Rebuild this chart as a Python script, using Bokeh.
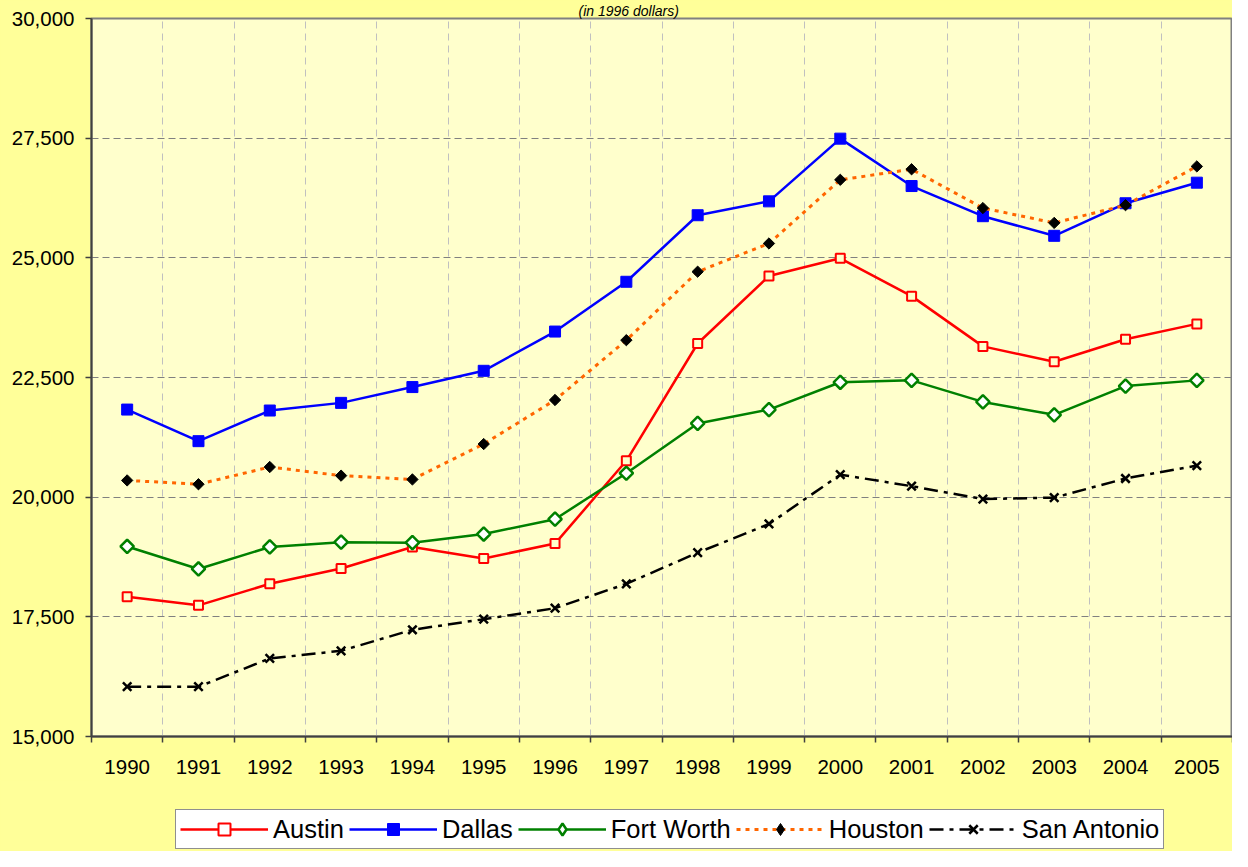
import numpy as np
from bokeh.plotting import figure
from bokeh.layouts import column
from bokeh.models import (Range1d, FixedTicker, NumeralTickFormatter, Legend, LegendItem)
from bokeh.embed import file_html
from bokeh.resources import INLINE

years = ["1990", "1991", "1992", "1993", "1994", "1995", "1996", "1997",
         "1998", "1999", "2000", "2001", "2002", "2003", "2004", "2005"]
austin = [17920, 17740, 18190, 18510, 18960, 18720, 19030, 20760,
          23210, 24620, 24990, 24200, 23150, 22830, 23300, 23620]
dallas = [21830, 21170, 21810, 21970, 22300, 22640, 23460, 24500,
          25890, 26180, 27490, 26500, 25870, 25460, 26140, 26570]
fort_worth = [18970, 18500, 18960, 19060, 19050, 19230, 19540, 20500,
              21540, 21830, 22400, 22440, 21990, 21720, 22320, 22440]
houston = [20350, 20270, 20630, 20450, 20370, 21110, 22030, 23280,
           24710, 25300, 26630, 26850, 26040, 25730, 26100, 26910]
san_antonio = [16040, 16040, 16630, 16790, 17230, 17450, 17680, 18190,
               18840, 19440, 20470, 20230, 19960, 19990, 20390, 20660]
y_ticks = [15000, 17500, 20000, 22500, 25000, 27500, 30000]
subtitle = "(in 1996 dollars)"
series_names = ["Austin", "Dallas", "Fort Worth", "Houston", "San Antonio"]

FONT = "Liberation Sans"
OUTER = "#FFFF99"
n = len(years)
xpos = [i + 0.5 for i in range(n)]

p = figure(width=1232, height=780, output_backend="svg", toolbar_location=None,
           x_range=Range1d(0, n), y_range=Range1d(15000, 30000),
           min_border_left=91, min_border_right=0, min_border_top=16, min_border_bottom=44)
p.background_fill_color = "#FFFFCC"
p.border_fill_color = OUTER
p.outline_line_color = "#808080"
p.outline_line_width = 2

# title (fragment visible at the top of the reference)
p.title.text = subtitle
p.title.align = "left"
p.title.offset = 487
p.title.standoff = 0
p.title.text_font = FONT
p.title.text_font_size = "14px"
p.title.text_font_style = "italic"
p.title.text_color = "black"

# x axis
p.xaxis.ticker = FixedTicker(ticks=xpos, minor_ticks=list(range(n + 1)))
p.xaxis.major_label_overrides = {x: y for x, y in zip(xpos, years)}
p.xaxis.major_tick_out = 0
p.xaxis.major_tick_in = 0
p.xaxis.minor_tick_out = 6
p.xaxis.minor_tick_in = 0
p.xaxis.minor_tick_line_color = "#404040"
p.xaxis.minor_tick_line_width = 1.5
p.xaxis.axis_line_color = "#404040"
p.xaxis.axis_line_width = 2
p.xaxis.major_label_standoff = 17
p.xaxis.major_label_text_font = FONT
p.xaxis.major_label_text_font_size = "20.5px"
p.xaxis.major_label_text_color = "black"

# y axis
p.yaxis.ticker = FixedTicker(ticks=y_ticks, minor_ticks=[])
p.yaxis.formatter = NumeralTickFormatter(format="0,0")
p.yaxis.major_tick_out = 6
p.yaxis.major_tick_in = 0
p.yaxis.major_tick_line_color = "#404040"
p.yaxis.major_tick_line_width = 1.5
p.yaxis.axis_line_color = "#404040"
p.yaxis.axis_line_width = 2
p.yaxis.major_label_standoff = 11
p.yaxis.major_label_text_font = FONT
p.yaxis.major_label_text_font_size = "20.5px"
p.yaxis.major_label_text_color = "black"

# grids
p.xgrid.ticker = FixedTicker(ticks=list(range(n + 1)))
p.xgrid.grid_line_color = "#C0C0C0"
p.xgrid.grid_line_dash = "7 5"
p.xgrid.grid_line_width = 1
p.ygrid.grid_line_color = "#808080"
p.ygrid.grid_line_dash = "7 4"
p.ygrid.grid_line_width = 1

# series styles
styles = [
    dict(line=dict(line_color="#FF0000", line_width=2.5),
         mark=dict(marker="square", size=9, line_color="#FF0000", line_width=2, fill_color="#FFFFCC"),
         lmark=dict(marker="square", size=9, line_color="#FF0000", line_width=2, fill_color="white")),
    dict(line=dict(line_color="#0000FF", line_width=2.5),
         mark=dict(marker="square", size=11, line_color="#0000FF", fill_color="#0000FF"),
         lmark=dict(marker="square", size=11, line_color="#0000FF", fill_color="#0000FF")),
    dict(line=dict(line_color="#008000", line_width=2.5),
         mark=dict(marker="square", angle=np.pi / 4, size=9.5, line_color="#008000",
                   line_width=2.5, fill_color="white"),
         lmark=dict(marker="diamond", size=16, line_color="#008000", line_width=2.5,
                    fill_color="white")),
    dict(line=dict(line_color="#FF6600", line_width=3, line_dash="4 5"),
         mark=dict(marker="square", angle=np.pi / 4, size=8, line_color="black", fill_color="black"),
         lmark=dict(marker="diamond", size=14, line_color="black", fill_color="black")),
    dict(line=dict(line_color="black", line_width=2.5, line_dash="14 6 4 6"),
         mark=dict(marker="x", size=12, line_color="black", line_width=2.5),
         lmark=dict(marker="x", size=12, line_color="black", line_width=2.5)),
]
all_values = [austin, dallas, fort_worth, houston, san_antonio]

for vals, st in zip(all_values, styles):
    p.line(xpos, vals, **st["line"])
    p.scatter(xpos, vals, **st["mark"])

# legend strip (separate figure so the legend is not clipped by the plot frame)
p2 = figure(width=1232, height=71, output_backend="svg", toolbar_location=None,
            x_range=Range1d(0, n), y_range=Range1d(15000, 30000),
            x_axis_location=None, y_axis_location=None,
            min_border_left=0, min_border_right=0, min_border_top=0, min_border_bottom=0)
p2.background_fill_color = OUTER
p2.border_fill_color = OUTER
p2.outline_line_color = None
p2.grid.visible = False

items = []
for name, vals, st in zip(series_names, all_values, styles):
    l = p2.line(xpos, vals, visible=False, **st["line"])
    m = p2.scatter(xpos, vals, visible=False, **st["lmark"])
    items.append(LegendItem(label=name, renderers=[l, m]))

legend = Legend(items=items, orientation="horizontal", location=(84, 2),
                glyph_width=88, glyph_height=30, label_standoff=5, spacing=5,
                padding=4, margin=0, label_text_font=FONT, label_text_font_size="25.5px",
                label_text_color="black", border_line_color="#202020",
                border_line_width=1.5, background_fill_color="white",
                background_fill_alpha=1, click_policy="none")
p2.add_layout(legend, "center")

layout = column(p, p2, spacing=0, styles={"background-color": OUTER})
open("out.html", "w").write(file_html(layout, INLINE))
